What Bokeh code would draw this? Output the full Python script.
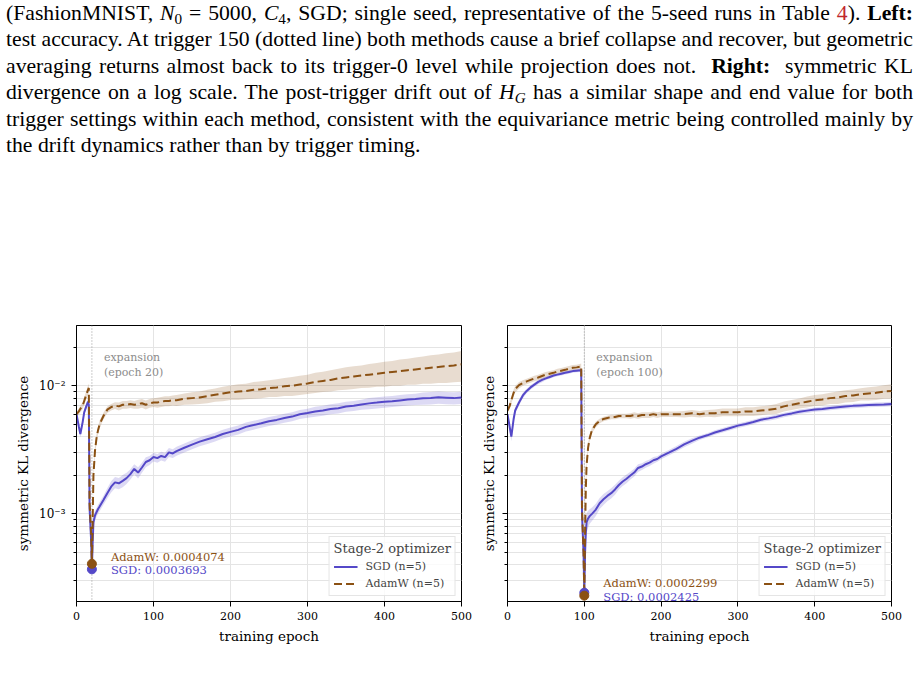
from bokeh.plotting import figure
from bokeh.layouts import column, row
from bokeh.models import (Div, Span, Legend, LegendItem, FixedTicker, Range1d,
                          CustomJSTickFormatter)
from bokeh.core.properties import value
from bokeh.embed import file_html
from bokeh.resources import INLINE

# ---------------------------------------------------------------- data
# Left panel: expansion at epoch 20
EPOCHS_L = [0, 3, 5, 8, 10, 13, 15, 16, 17, 19, 20, 21, 22, 24, 26, 28, 30,
            35, 40, 45, 50, 55, 60, 65, 70, 75, 80, 85, 90, 95, 100, 105, 110, 115, 120, 125, 130,
            140, 150, 160, 170, 180, 190, 200, 210, 220, 230, 240, 250, 260, 270, 280, 290,
            300, 310, 320, 330, 340, 350, 360, 370, 380, 390, 400, 410, 420, 430, 440, 450,
            460, 470, 480, 490, 500]
SGD_L = [0.0060, 0.0048, 0.0042, 0.0052, 0.0062, 0.0070, 0.0075, 0.0071, 0.0011, 0.00062,
         0.0003693, 0.00060, 0.00086, 0.00097, 0.00103, 0.00109, 0.00114,
         0.00128, 0.00145, 0.00163, 0.00176, 0.00173, 0.00181, 0.00190, 0.00204, 0.00224, 0.00210,
         0.00230, 0.00254, 0.00262, 0.00278, 0.00272, 0.00283, 0.00277, 0.00302, 0.00296, 0.00309,
         0.00328, 0.00347, 0.00366, 0.00382, 0.00398, 0.00420, 0.00436, 0.00452, 0.00477, 0.00493,
         0.00510, 0.00528, 0.00541, 0.00559, 0.00574, 0.00598, 0.00612, 0.00628, 0.00641, 0.00658,
         0.00668, 0.00688, 0.00697, 0.00714, 0.00728, 0.00738, 0.00749, 0.00757, 0.00768, 0.00779,
         0.00786, 0.00799, 0.00803, 0.00811, 0.00806, 0.00800, 0.00809]
SGD_L_SPREAD = [0.05, 0.06, 0.06, 0.06, 0.05, 0.05, 0.05, 0.05, 0.15, 0.15,
                0.05, 0.12, 0.10, 0.09, 0.08, 0.08, 0.08,
                0.08, 0.09, 0.10, 0.10, 0.10, 0.11, 0.10, 0.09, 0.09, 0.10,
                0.09, 0.09, 0.08, 0.08, 0.08, 0.08, 0.08, 0.08, 0.08, 0.08,
                0.08, 0.08, 0.08, 0.08, 0.08, 0.08, 0.08, 0.08, 0.08, 0.08,
                0.08, 0.08, 0.08, 0.08, 0.08, 0.08, 0.08, 0.09, 0.09, 0.09,
                0.09, 0.09, 0.09, 0.09, 0.10, 0.10, 0.10, 0.10, 0.10, 0.10,
                0.10, 0.11, 0.11, 0.11, 0.11, 0.11, 0.11]
ADAMW_L = [0.0060, 0.0063, 0.0066, 0.0070, 0.0076, 0.0086, 0.0093, 0.0096, 0.0012, 0.00070,
           0.0004074, 0.00090, 0.0020, 0.0031, 0.0039, 0.0045, 0.0050,
           0.0058, 0.0065, 0.0068, 0.0070, 0.0069, 0.0071, 0.0071, 0.0072, 0.0071, 0.0072,
           0.0073, 0.0071, 0.0073, 0.0074, 0.0074, 0.0075, 0.0076, 0.0076, 0.0077, 0.0077,
           0.0079, 0.0080, 0.0081, 0.0083, 0.0085, 0.0087, 0.0089, 0.0090, 0.0091, 0.0093,
           0.0094, 0.0096, 0.0097, 0.0099, 0.0100, 0.0102, 0.0104, 0.0107, 0.0109, 0.0111,
           0.0114, 0.0116, 0.0118, 0.0120, 0.0122, 0.0124, 0.0126, 0.0128, 0.0130, 0.0132,
           0.0134, 0.0136, 0.0138, 0.0140, 0.0142, 0.0144, 0.0147]
ADAMW_L_SPREAD = [0.05, 0.05, 0.06, 0.06, 0.07, 0.07, 0.08, 0.08, 0.15, 0.15,
                  0.05, 0.15, 0.12, 0.10, 0.08, 0.07, 0.07,
                  0.06, 0.06, 0.06, 0.06, 0.07, 0.07, 0.07, 0.07, 0.07, 0.08,
                  0.08, 0.08, 0.08, 0.08, 0.09, 0.09, 0.09, 0.09, 0.09, 0.10,
                  0.10, 0.11, 0.11, 0.12, 0.12, 0.13, 0.13, 0.14, 0.14, 0.15,
                  0.15, 0.15, 0.16, 0.16, 0.17, 0.17, 0.17, 0.18, 0.18, 0.19,
                  0.19, 0.20, 0.20, 0.20, 0.21, 0.21, 0.22, 0.22, 0.23, 0.23,
                  0.24, 0.24, 0.25, 0.25, 0.26, 0.26, 0.27]

# Right panel: expansion at epoch 100
EPOCHS_R = [0, 3, 5, 8,
            10, 15, 20, 25, 30, 35, 40, 45, 50, 55, 60, 65, 70, 75, 80, 85, 90, 95,
            96, 97, 99,
            100, 101, 102, 103, 105, 107,
            110, 115, 120, 125, 130, 135, 140, 145, 150, 155, 160, 165, 170, 175, 180, 185, 190, 195, 200,
            210, 220, 230, 240, 250, 260, 270, 280, 290, 300,
            310, 320, 330, 340, 350, 360, 370, 380, 390, 400,
            410, 420, 430, 440, 450, 460, 470, 480, 490, 500]
SGD_R = [0.0060, 0.0047, 0.0040, 0.0055,
         0.0064, 0.0074, 0.0084, 0.0091, 0.0097, 0.0102, 0.0107, 0.0111, 0.0114, 0.0117,
         0.0120, 0.0122, 0.0124, 0.0126, 0.0128, 0.0130, 0.0131, 0.0132,
         0.0133, 0.0010, 0.00050,
         0.0002425, 0.00050, 0.00072, 0.00086, 0.00092, 0.00096,
         0.00100, 0.00108, 0.00121, 0.00130, 0.00138, 0.00145, 0.00155, 0.00168, 0.00179, 0.00188,
         0.00199, 0.00210, 0.00228, 0.00234, 0.00244, 0.00251, 0.00262, 0.00268, 0.00281,
         0.00300, 0.00322, 0.00348, 0.00371, 0.00393, 0.00410, 0.00431, 0.00449, 0.00468, 0.00488,
         0.00503, 0.00521, 0.00543, 0.00556, 0.00571, 0.00592, 0.00608, 0.00626, 0.00639, 0.00651,
         0.00659, 0.00671, 0.00680, 0.00689, 0.00696, 0.00701, 0.00706, 0.00711, 0.00714, 0.00720]
SGD_R_SPREAD = [0.04, 0.07, 0.08, 0.07,
                0.06, 0.05, 0.05, 0.04, 0.04, 0.04, 0.04, 0.04, 0.03, 0.03,
                0.03, 0.03, 0.03, 0.03, 0.03, 0.03, 0.03, 0.03,
                0.03, 0.15, 0.15,
                0.05, 0.25, 0.22, 0.18, 0.15, 0.13,
                0.12, 0.11, 0.10, 0.10, 0.09, 0.09, 0.09, 0.08, 0.08, 0.08,
                0.07, 0.07, 0.07, 0.06, 0.06, 0.06, 0.06, 0.05, 0.05,
                0.05, 0.05, 0.05, 0.05, 0.04, 0.04, 0.04, 0.04, 0.04, 0.04,
                0.04, 0.04, 0.04, 0.04, 0.04, 0.04, 0.04, 0.04, 0.04, 0.04,
                0.04, 0.04, 0.04, 0.04, 0.04, 0.04, 0.04, 0.04, 0.04, 0.04]
ADAMW_R = [0.0064, 0.0070, 0.0077, 0.0088,
           0.0094, 0.0101, 0.0105, 0.0108, 0.0111, 0.0114, 0.0116, 0.0119, 0.0122, 0.0124,
           0.0126, 0.0129, 0.0131, 0.0133, 0.0136, 0.0138, 0.0139, 0.0141,
           0.0142, 0.0011, 0.00050,
           0.0002299, 0.00070, 0.0016, 0.0024, 0.0033, 0.0039,
           0.0045, 0.0050, 0.0053, 0.0055, 0.0056, 0.0057, 0.0057, 0.0058, 0.0058, 0.0058,
           0.0058, 0.0059, 0.0058, 0.0059, 0.0059, 0.0059, 0.0060, 0.0059, 0.0060,
           0.0060, 0.0060, 0.0060, 0.0061, 0.0060, 0.0061, 0.0061, 0.0062, 0.0062, 0.0062,
           0.0063, 0.0063, 0.0064, 0.0065, 0.0066, 0.0069, 0.0071, 0.0073, 0.0075, 0.0077,
           0.0078, 0.0080, 0.0081, 0.0083, 0.0084, 0.0086, 0.0087, 0.0088, 0.0090, 0.0091]
ADAMW_R_SPREAD = [0.05, 0.06, 0.06, 0.06,
                  0.06, 0.06, 0.05, 0.05, 0.05, 0.05, 0.05, 0.05, 0.05, 0.05,
                  0.05, 0.05, 0.05, 0.05, 0.05, 0.05, 0.05, 0.05,
                  0.05, 0.15, 0.15,
                  0.05, 0.20, 0.15, 0.10, 0.08, 0.06,
                  0.05, 0.05, 0.04, 0.04, 0.04, 0.04, 0.04, 0.04, 0.04, 0.04,
                  0.05, 0.05, 0.05, 0.05, 0.05, 0.05, 0.05, 0.05, 0.05,
                  0.05, 0.05, 0.06, 0.06, 0.06, 0.06, 0.07, 0.07, 0.07, 0.07,
                  0.08, 0.08, 0.08, 0.08, 0.09, 0.09, 0.09, 0.09, 0.10, 0.10,
                  0.10, 0.10, 0.11, 0.11, 0.11, 0.11, 0.12, 0.12, 0.12, 0.13]

X_TICKS = [0, 100, 200, 300, 400, 500]
Y_MAJOR = [1e-3, 1e-2]
Y_MINOR = [2e-4, 3e-4, 4e-4, 5e-4, 6e-4, 7e-4, 8e-4, 9e-4,
           2e-3, 3e-3, 4e-3, 5e-3, 6e-3, 7e-3, 8e-3, 9e-3, 2e-2]
Y_LO, Y_HI = 2.07e-4, 2.95e-2

for arrs in [(EPOCHS_L, SGD_L, SGD_L_SPREAD, ADAMW_L, ADAMW_L_SPREAD),
             (EPOCHS_R, SGD_R, SGD_R_SPREAD, ADAMW_R, ADAMW_R_SPREAD)]:
    assert len(set(len(a) for a in arrs)) == 1, [len(a) for a in arrs]

# ---------------------------------------------------------------- style
SGD_COLOR = "#5448c8"
ADAMW_COLOR = "#8b5113"
GRID = "#e4e4e4"
SERIF = "DejaVu Serif"

SUPERSCRIPT_JS = """
const m = {'-': '\u207b', '0': '\u2070', '1': '\u00b9', '2': '\u00b2', '3': '\u00b3',
           '4': '\u2074', '5': '\u2075', '6': '\u2076', '7': '\u2077', '8': '\u2078', '9': '\u2079'};
const e = Math.round(Math.log10(tick));
return '10' + String(e).split('').map(c => m[c]).join('');
"""


def make_panel(epochs, sgd, sgd_spread, adamw, adamw_spread, trigger,
               border_left, border_right, frame_w, show_tick_labels):
    p = figure(frame_width=frame_w, frame_height=276,
               x_range=Range1d(0, 500), y_range=Range1d(Y_LO, Y_HI),
               y_axis_type="log", output_backend="svg", toolbar_location=None,
               min_border_left=border_left, min_border_right=border_right,
               min_border_top=25, min_border_bottom=77,
               background_fill_color="white", border_fill_color="white")
    p.outline_line_color = "black"
    p.outline_line_alpha = 1.0
    p.outline_line_width = 1

    xt = FixedTicker(ticks=X_TICKS)
    yt = FixedTicker(ticks=Y_MAJOR, minor_ticks=Y_MINOR)
    p.xaxis.ticker = xt
    p.yaxis.ticker = yt
    p.xgrid.ticker = xt
    p.ygrid.ticker = yt
    p.xgrid.grid_line_color = GRID
    p.ygrid.grid_line_color = GRID
    p.ygrid.minor_grid_line_color = GRID

    for ax in (p.xaxis[0], p.yaxis[0]):
        ax.axis_line_color = "black"
        ax.major_tick_line_color = "black"
        ax.minor_tick_line_color = "black"
        ax.major_tick_in = 0
        ax.major_tick_out = 5
        ax.minor_tick_in = 0
        ax.major_label_text_font = SERIF
        ax.major_label_text_font_size = "11px"
        ax.major_label_text_color = "black"
        ax.axis_label_text_font = SERIF
        ax.axis_label_text_font_size = "13.5px"
        ax.axis_label_text_font_style = "normal"
        ax.axis_label_text_color = "black"
    p.xaxis.minor_tick_out = 0
    p.yaxis.minor_tick_out = 3
    p.xaxis.axis_label = "training epoch"
    p.yaxis.axis_label = "symmetric KL divergence"
    if show_tick_labels:
        p.yaxis.formatter = CustomJSTickFormatter(code=SUPERSCRIPT_JS)
        p.yaxis.major_label_text_font_size = "12px"
        p.yaxis.major_label_standoff = 6
        p.yaxis.axis_label_standoff = 5
    else:
        p.yaxis.formatter = CustomJSTickFormatter(code="return '';")
        p.yaxis.major_label_standoff = 0
        p.yaxis.axis_label_standoff = 6

    p.add_layout(Span(location=trigger, dimension="height", line_color="#9a9a9a",
                      line_width=1, line_dash="1 2", level="underlay"))

    sgd_lo = [m * (1 - s) for m, s in zip(sgd, sgd_spread)]
    sgd_hi = [m * (1 + s) for m, s in zip(sgd, sgd_spread)]
    ad_lo = [m * (1 - s) for m, s in zip(adamw, adamw_spread)]
    ad_hi = [m * (1 + s) for m, s in zip(adamw, adamw_spread)]
    p.varea(x=epochs, y1=sgd_lo, y2=sgd_hi, fill_color=SGD_COLOR, fill_alpha=0.2)
    p.varea(x=epochs, y1=ad_lo, y2=ad_hi, fill_color=ADAMW_COLOR, fill_alpha=0.2)
    r_sgd = p.line(epochs, sgd, line_color=SGD_COLOR, line_width=2)
    r_ad = p.line(epochs, adamw, line_color=ADAMW_COLOR, line_width=2, line_dash="8 4")

    i = epochs.index(trigger)
    sgd_min, ad_min = sgd[i], adamw[i]
    p.scatter([trigger], [sgd_min], size=9, color=SGD_COLOR)
    p.scatter([trigger], [ad_min], size=9, color=ADAMW_COLOR)

    low = min(sgd_min, ad_min)
    common = dict(x_offset=19, text_baseline="middle", text_align="left",
                  text_font=value(SERIF), text_font_size="11.5px")
    p.text([trigger], [low], text=[f"AdamW: {ad_min:.7f}"], y_offset=-12.5,
           text_color=ADAMW_COLOR, **common)
    p.text([trigger], [low], text=[f"SGD: {sgd_min:.7f}"], y_offset=1,
           text_color=SGD_COLOR, **common)

    p.text([trigger], [Y_HI], text=[f"expansion\n(epoch {trigger})"], x_offset=12,
           y_offset=25, text_baseline="top", text_align="left", text_color="#8c8c8c",
           text_font=value(SERIF), text_font_size="11px", text_line_height=1.2)

    legend = Legend(items=[LegendItem(label="SGD (n=5)", renderers=[r_sgd]),
                           LegendItem(label="AdamW (n=5)", renderers=[r_ad])],
                    location="bottom_right", title="Stage-2 optimizer")
    legend.title_text_font = SERIF
    legend.title_text_font_size = "13px"
    legend.title_text_font_style = "normal"
    legend.title_standoff = 3
    legend.label_text_font = SERIF
    legend.label_text_font_size = "11px"
    legend.label_height = 15
    legend.glyph_height = 15
    legend.glyph_width = 24
    legend.label_standoff = 8
    legend.spacing = 2
    legend.padding = 4
    legend.margin = 5
    legend.background_fill_color = "white"
    legend.background_fill_alpha = 0.8
    legend.border_line_color = "#cccccc"
    legend.border_line_width = 1
    p.add_layout(legend)
    return p


left = make_panel(EPOCHS_L, SGD_L, SGD_L_SPREAD, ADAMW_L, ADAMW_L_SPREAD, 20,
                  border_left=76, border_right=13, frame_w=385, show_tick_labels=True)
right = make_panel(EPOCHS_R, SGD_R, SGD_R_SPREAD, ADAMW_R, ADAMW_R_SPREAD, 100,
                   border_left=33, border_right=29, frame_w=384, show_tick_labels=False)

# ---------------------------------------------------------------- caption
CAPTION_LINES = [
    '(FashionMNIST, <i>N</i><sub>0</sub> = 5000, <i>C</i><sub>4</sub>, SGD; single seed, '
    'representative of the 5-seed runs in Table <span style="color:#c0272d">4</span>). <b>Left:</b>',
    'test accuracy. At trigger 150 (dotted line) both methods cause a brief collapse and recover, but geometric',
    'averaging returns almost back to its trigger-0 level while projection does not. &nbsp;<b>Right:</b> &nbsp;symmetric KL',
    'divergence on a log scale. The post-trigger drift out of <i>H</i><sub><i>G</i></sub> has a similar shape and end value for both',
    'trigger settings within each method, consistent with the equivariance metric being controlled mainly by',
    'the drift dynamics rather than by trigger timing.',
]
sub_css = "font-size:0.7em;line-height:0;vertical-align:-0.28em;"
body = []
for k, line in enumerate(CAPTION_LINES):
    line = line.replace("<sub>", f'<sub style="{sub_css}">')
    if k == len(CAPTION_LINES) - 1:
        align = "text-align:left;white-space:nowrap;"
    else:
        align = ("text-align:justify;text-align-last:justify;white-space:nowrap;"
                 "word-spacing:-1.5px;")
    body.append(f'<div style="{align}">{line}</div>')
caption_html = ('<div style="font-family:\'Liberation Serif\',serif;font-size:21.7px;'
                'line-height:26.4px;color:#000;width:907px;margin:0 0 0 6px;padding:0;">'
                + "".join(body) + "</div>")
caption = Div(text=caption_html, width=920, height=300, margin=(0, 0, 0, 0),
              styles={"overflow": "hidden"})

layout = column(caption, row(left, right, spacing=0), spacing=0)
open("out.html", "w").write(file_html(layout, INLINE))
